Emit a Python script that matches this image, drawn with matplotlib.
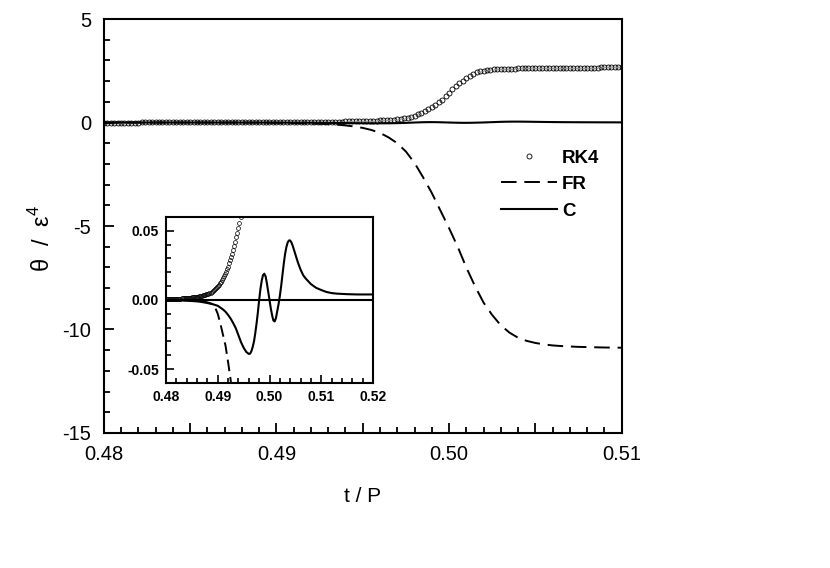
#!/usr/bin/env python3
"""Phase error of the RK4, FR and C schemes near t/P = 0.5."""

import numpy as np
import matplotlib
matplotlib.use('Agg')
import matplotlib.pyplot as plt
from matplotlib.ticker import MultipleLocator, FixedLocator, FixedFormatter

plt.rcParams['font.family'] = ['Liberation Sans', 'DejaVu Sans']
plt.rcParams['mathtext.fontset'] = 'custom'
plt.rcParams['mathtext.rm'] = 'Liberation Sans'
plt.rcParams['axes.unicode_minus'] = False

# RK4: sampled every 0.0002 from 0.480 to 0.510
rk4_t = np.round(np.arange(0.48, 0.51 + 1e-9, 0.0002), 4)
rk4_vals = [
    0.0005, 0.0005, 0.0005, 0.0006, 0.0006, 0.0006, 0.0007, 0.0007, 0.0007, 0.0008,
    0.0008, 0.0009, 0.0009, 0.0010, 0.0010, 0.0011, 0.0011, 0.0012, 0.0012, 0.0013,
    0.0013, 0.0014, 0.0015, 0.0016, 0.0017, 0.0018, 0.0019, 0.0020, 0.0021, 0.0022,
    0.0023, 0.0024, 0.0026, 0.0027, 0.0029, 0.0031, 0.0033, 0.0035, 0.0037, 0.0040,
    0.0042, 0.0046, 0.0050, 0.0054, 0.0059, 0.0064, 0.0070, 0.0077, 0.0084, 0.0092,
    0.0100, 0.0110, 0.0120, 0.0131, 0.0143, 0.0156, 0.0170, 0.0186, 0.0203, 0.0222,
    0.0242, 0.0264, 0.0287, 0.0311, 0.0336, 0.0362, 0.0390, 0.0420, 0.0452, 0.0486,
    0.0522, 0.0560, 0.060, 0.064, 0.068, 0.073, 0.078, 0.083, 0.089, 0.095,
    0.10, 0.11, 0.12, 0.13, 0.145, 0.16, 0.18, 0.21, 0.24, 0.28,
    0.33, 0.39, 0.46, 0.54, 0.63, 0.74, 0.86, 0.98, 1.11, 1.26,
    1.43, 1.60, 1.76, 1.91, 2.03, 2.14, 2.25, 2.35, 2.42, 2.47,
    2.51, 2.54, 2.56, 2.57, 2.58, 2.59, 2.59, 2.60, 2.60, 2.60,
    2.61, 2.61, 2.61, 2.61, 2.62, 2.62, 2.62, 2.62, 2.62, 2.63,
    2.63, 2.63, 2.63, 2.63, 2.64, 2.64, 2.64, 2.64, 2.64, 2.65,
    2.65, 2.65, 2.65, 2.65, 2.66, 2.66, 2.66, 2.66, 2.66, 2.66,
    2.66,
]

# FR: every 0.0005 from 0.480 to 0.510
fr_t = np.round(np.arange(0.48, 0.51 + 1e-9, 0.0005), 4)
fr_vals = [
    0.0, 0.0, 0.0, 0.0, -0.0001, -0.0001, -0.0001, -0.0002, -0.0002, -0.0003,
    -0.0004, -0.0005, -0.0006, -0.0008, -0.0010, -0.0013, -0.0017, -0.0023, -0.0030, -0.0055,
    -0.010, -0.017, -0.025, -0.033, -0.045, -0.058, -0.075, -0.10, -0.14, -0.19,
    -0.26, -0.36, -0.50, -0.72, -1.0, -1.4, -1.95, -2.65, -3.4, -4.25,
    -5.1, -6.0, -7.0, -7.9, -8.7, -9.3, -9.8, -10.15, -10.4, -10.55,
    -10.65, -10.72, -10.77, -10.80, -10.82, -10.84, -10.85, -10.86, -10.87, -10.875,
    -10.88,
]

# C: finer sampling through the oscillation
c_t = [
    0.4800, 0.4820, 0.4840, 0.4860, 0.4870, 0.4880, 0.4890, 0.4900, 0.4905, 0.4910,
    0.4915, 0.4920, 0.4925, 0.4930, 0.4935, 0.4940, 0.4945, 0.4950, 0.4955, 0.4960,
    0.49625, 0.4965, 0.49675, 0.4970, 0.49725, 0.4975, 0.49775, 0.4980, 0.49825, 0.4985,
    0.49875, 0.4990, 0.49925, 0.4995, 0.49975, 0.5000, 0.50025, 0.5005, 0.50075, 0.5010,
    0.50125, 0.5015, 0.50175, 0.5020, 0.50225, 0.5025, 0.50275, 0.5030, 0.50325, 0.5035,
    0.50375, 0.5040, 0.50425, 0.5045, 0.50475, 0.5050, 0.5055, 0.5060, 0.5065, 0.5070,
    0.5075, 0.5080, 0.5090, 0.5100, 0.5110, 0.5120, 0.5130, 0.5150, 0.5170, 0.5200,
]
c_vals = [
    0.0, -0.0002, -0.0005, -0.0010, -0.0015, -0.0022, -0.0030, -0.0042, -0.0055, -0.0068,
    -0.0085, -0.0108, -0.0135, -0.0168, -0.0205, -0.0255, -0.0305, -0.0345, -0.0375, -0.0390,
    -0.0388, -0.0370, -0.0340, -0.0300, -0.0240, -0.0170, -0.0090, 0.0, 0.0080, 0.0140,
    0.0180, 0.0190, 0.0170, 0.0120, 0.0060, 0.0, -0.0060, -0.0110, -0.0148, -0.0155,
    -0.0130, -0.0080, -0.0030, 0.0030, 0.0100, 0.0180, 0.0260, 0.0330, 0.0380, 0.0415,
    0.0430, 0.0430, 0.0415, 0.0390, 0.0360, 0.0330, 0.0270, 0.0220, 0.0180, 0.0155,
    0.0135, 0.0115, 0.0088, 0.0072, 0.0058, 0.0050, 0.0046, 0.0042, 0.0040, 0.0040,
]

fig = plt.figure(figsize=(8.3, 5.68), dpi=100)
ax = fig.add_axes([0.125, 0.2377, 0.624, 0.7288])

ax.plot(rk4_t, rk4_vals, linestyle='none', marker='o', markersize=3.6,
        markerfacecolor='none', markeredgecolor='black', markeredgewidth=0.6, label='RK4')
ax.plot(fr_t, fr_vals, color='black', lw=1.4, dashes=(8, 4), label='FR')
ax.plot(c_t, c_vals, color='black', lw=1.5, label='C')

ax.set_xlim(0.48, 0.51)
ax.set_ylim(-15, 5)
major_x = [0.48, 0.485, 0.49, 0.495, 0.50, 0.505, 0.51]
ax.xaxis.set_major_locator(FixedLocator(major_x))
ax.xaxis.set_major_formatter(FixedFormatter(['0.48', '', '0.49', '', '0.50', '', '0.51']))
ax.xaxis.set_minor_locator(MultipleLocator(0.001))
ax.yaxis.set_major_locator(MultipleLocator(5))
ax.yaxis.set_minor_locator(MultipleLocator(1))
ax.tick_params(which='both', direction='in', top=False, right=False, width=1.3)
ax.tick_params(which='major', length=7, labelsize=14.5, pad=9)
ax.tick_params(which='minor', length=4)
for s in ax.spines.values():
    s.set_linewidth(1.5)

ax.set_xlabel('t / P', fontsize=15, labelpad=16)
ax.set_ylabel('θ  /  ε$^{4}$', fontsize=17)
ax.yaxis.set_label_coords(-0.095, 0.47)

leg = ax.legend(loc='upper left', bbox_to_anchor=(0.767, 0.685), frameon=False,
                handlelength=3.0, handletextpad=0.25, labelspacing=0.5,
                numpoints=1, borderpad=0, borderaxespad=0,
                prop={'weight': 'bold', 'size': 13.5})

# inset
axin = fig.add_axes([0.2, 0.3257, 0.2494, 0.2923])
axin.plot(rk4_t, rk4_vals, linestyle='none', marker='o', markersize=2.8,
          markerfacecolor='none', markeredgecolor='black', markeredgewidth=0.5)
axin.plot(fr_t, fr_vals, color='black', lw=1.4, dashes=(6, 3))
axin.plot(c_t, c_vals, color='black', lw=1.5)
axin.axhline(0, color='black', lw=1.5)
axin.set_xlim(0.48, 0.52)
axin.set_ylim(-0.06, 0.06)
axin.xaxis.set_major_locator(MultipleLocator(0.01))
axin.xaxis.set_minor_locator(MultipleLocator(0.002))
axin.yaxis.set_major_locator(FixedLocator([-0.05, 0.0, 0.05]))
axin.yaxis.set_major_formatter(FixedFormatter(['-0.05', '0.00', '0.05']))
axin.yaxis.set_minor_locator(MultipleLocator(0.01))
axin.tick_params(which='both', direction='in', top=False, right=False, width=1.2)
axin.tick_params(which='major', length=6, labelsize=10, pad=5)
axin.tick_params(which='minor', length=3.5)
for lab in axin.get_xticklabels() + axin.get_yticklabels():
    lab.set_fontweight('bold')
for s in axin.spines.values():
    s.set_linewidth(1.5)

fig.savefig('out.png', dpi=100)
